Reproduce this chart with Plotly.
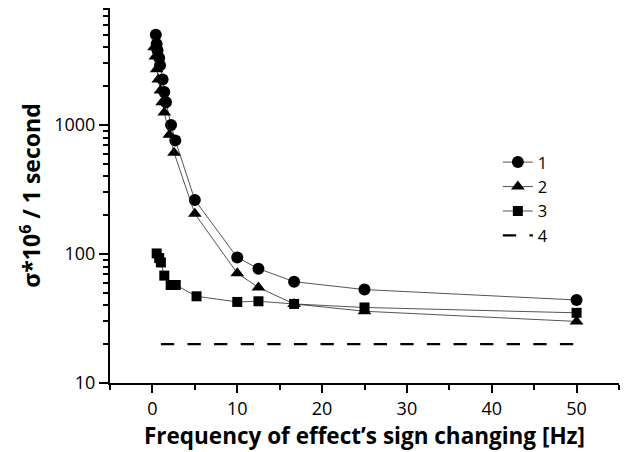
import plotly.graph_objects as go

# Series 1 (circles)
freq1 = [0.4, 0.5, 0.6, 0.8, 0.9, 1.2, 1.4, 1.6, 2.2, 2.7, 5, 10, 12.5, 16.7, 25, 50]
sig1 = [5000, 4250, 3800, 3300, 2900, 2250, 1800, 1500, 1000, 760, 262, 94, 77, 61, 53, 44]

# Series 2 (triangles)
freq2 = [0.2, 0.35, 0.5, 0.7, 0.95, 1.15, 1.4, 2.0, 2.55, 5, 10, 12.5, 16.7, 25, 50]
sig2 = [4000, 3400, 2700, 2250, 1850, 1500, 1250, 840, 610, 205, 71, 55, 41, 36, 30]

# Series 3 (squares)
freq3 = [0.5, 0.8, 1.0, 1.4, 2.15, 2.75, 5.2, 10, 12.5, 16.7, 25, 50]
sig3 = [101, 93, 86, 68, 57.5, 57.5, 47, 42.5, 43, 41, 38.5, 35]

# Series 4 (dashed level)
freq4 = [1, 50]
sig4 = [20, 20]

names = ["1", "2", "3", "4"]
y_major = [10, 100, 1000]
y_minor = [m * d for d in (10, 100, 1000) for m in range(2, 10)]
x_major = [0, 10, 20, 30, 40, 50]
x_minor = [-5, 5, 15, 25, 35, 45, 55]

FONT = "Open Sans"
LC = "#2a2a2a"

fig = go.Figure()
fig.add_trace(go.Scatter(x=freq1, y=sig1, name=names[0], mode="lines+markers",
                         line=dict(color=LC, width=0.8),
                         marker=dict(symbol="circle", size=12, color="black")))
fig.add_trace(go.Scatter(x=freq2, y=sig2, name=names[1], mode="lines+markers",
                         line=dict(color=LC, width=0.8),
                         marker=dict(symbol="triangle-up", size=12, color="black")))
fig.add_trace(go.Scatter(x=freq3, y=sig3, name=names[2], mode="lines+markers",
                         line=dict(color=LC, width=0.8),
                         marker=dict(symbol="square", size=10, color="black")))
fig.add_trace(go.Scatter(x=freq4, y=sig4, name=names[3], mode="lines",
                         line=dict(color="black", width=2.2, dash="13.3px,13.3px")))

# page body keeps its default 8px margin, so the figure is sized to fit inside it
fig.update_layout(
    width=622, height=444,
    margin=dict(l=102, r=11, t=0, b=69, autoexpand=False),
    paper_bgcolor="white", plot_bgcolor="white",
    font=dict(family=FONT, color="black", size=18),
    showlegend=True,
    legend=dict(x=0.762, y=0.635, xanchor="left", yanchor="top",
                bgcolor="rgba(0,0,0,0)", font=dict(size=16.5, family=FONT),
                itemwidth=30, tracegroupgap=0),
)
fig.update_xaxes(
    range=[-5, 55], showgrid=False, zeroline=False, automargin=False,
    showline=True, linecolor="black", linewidth=2,
    tickmode="array", tickvals=x_major, ticks="outside", ticklen=8, tickwidth=1.5,
    tickcolor="black", tickfont=dict(size=18, family=FONT),
    minor=dict(tickmode="array", tickvals=x_minor, ticks="outside", ticklen=5,
               tickwidth=1.5, tickcolor="black", showgrid=False),
    title=dict(text="<b>Frequency of effect’s sign changing [Hz]</b>",
               font=dict(size=22.5, family=FONT), standoff=8),
)
fig.update_yaxes(
    type="log", range=[1, 3.907], showgrid=False, zeroline=False, automargin=False,
    showline=True, linecolor="black", linewidth=2,
    tickmode="array", tickvals=y_major, ticktext=[str(v) for v in y_major],
    ticks="outside", ticklen=9, tickwidth=1.5, tickcolor="black",
    tickfont=dict(size=18, family=FONT),
    minor=dict(tickmode="array", tickvals=y_minor, ticks="outside", ticklen=5,
               tickwidth=1.5, tickcolor="black", showgrid=False),
    title=dict(text="<b>σ*10<sup>6</sup> / 1 second</b>",
               font=dict(size=23, family=FONT), standoff=7),
)

fig.write_html("out.html")
